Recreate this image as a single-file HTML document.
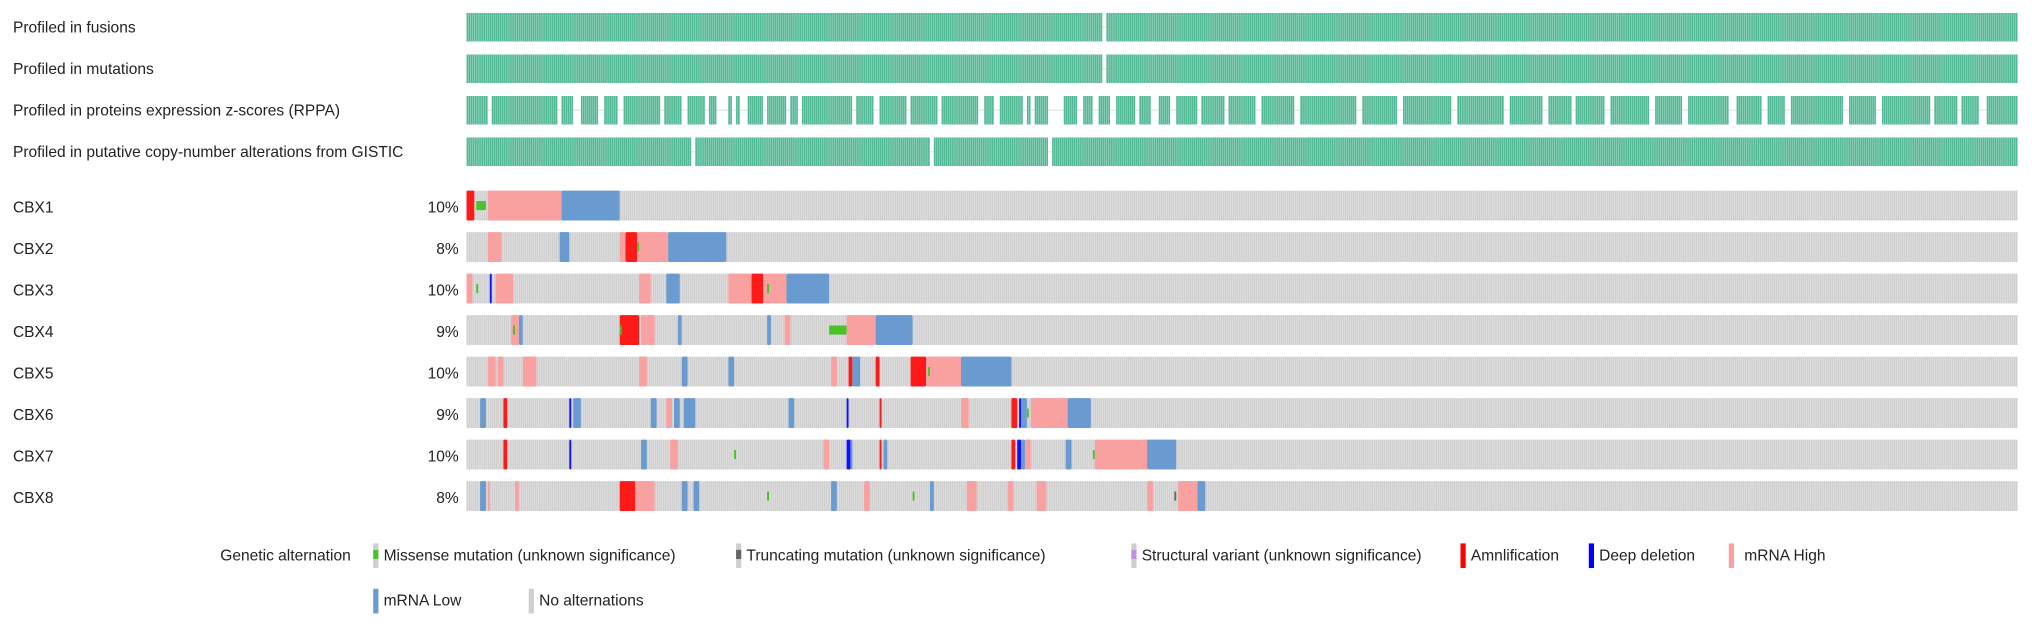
<!DOCTYPE html>
<html><head><meta charset="utf-8">
<style>
html,body{margin:0;padding:0;background:#fff;width:2032px;height:629px;overflow:hidden}
svg{display:block}
text{font-family:"Liberation Sans",sans-serif;fill:#222}
</style></head>
<body>
<svg id="chart" width="2032" height="629" viewBox="0 0 1568 485" preserveAspectRatio="none" xmlns="http://www.w3.org/2000/svg">
<g id="tracks"></g>
<g id="legend">
  <text x="170" y="432" font-size="12">Genetic alternation</text>
  <g><rect x="288" y="419" width="4" height="19" fill="#cfcfcf"/><rect x="288" y="424" width="4" height="7" fill="#4cc22a"/><text x="296" y="432" font-size="12">Missense mutation (unknown significance)</text></g>
  <g><rect x="568" y="419" width="4" height="19" fill="#cfcfcf"/><rect x="568" y="424" width="4" height="7" fill="#666"/><text x="576" y="432" font-size="12">Truncating mutation (unknown significance)</text></g>
  <g><rect x="873" y="419" width="4" height="19" fill="#cfcfcf"/><rect x="873" y="424" width="4" height="7" fill="#c58fe0"/><text x="881" y="432" font-size="12">Structural variant (unknown significance)</text></g>
  <g><rect x="1127" y="419" width="4" height="19" fill="#ff0000"/><text x="1135" y="432" font-size="12">Amnlification</text></g>
  <g><rect x="1226" y="419" width="4" height="19" fill="#0000ff"/><text x="1234" y="432" font-size="12">Deep deletion</text></g>
  <g><rect x="1334" y="419" width="4" height="19" fill="#f9a0a0"/><text x="1346" y="432" font-size="12">mRNA High</text></g>
  <g><rect x="288" y="454" width="4" height="19" fill="#6a9bd0"/><text x="296" y="467" font-size="12">mRNA Low</text></g>
  <g><rect x="408" y="454" width="4" height="19" fill="#cfcfcf"/><text x="416" y="467" font-size="12">No alternations</text></g>
</g>
</svg>
<script>
const N = 800;
const profileLabels = ["Profiled in fusions","Profiled in mutations","Profiled in proteins expression z-scores (RPPA)","Profiled in putative copy-number alterations from GISTIC"];
const profileGaps = [
  [[328,330]],
  [[328,330]],
  [[11,13],[47,49],[55,59],[68,71],[78,81],[100,102],[111,114],[123,125],[129,135],[137,139],[141,145],[153,155],[165,167],[171,173],[199,201],[210,213],[227,229],[243,245],[264,267],[272,275],[287,289],[291,293],[300,308],[315,318],[323,326],[332,335],[345,347],[353,357],[363,366],[377,379],[391,393],[407,410],[427,430],[459,462],[480,483],[508,511],[535,538],[555,558],[570,572],[587,590],[610,613],[627,630],[651,655],[668,671],[680,683],[710,713],[727,730],[755,757],[769,771],[780,784]],
  [[116,118],[239,241],[300,302]]
];
const genes = ["CBX1","CBX2","CBX3","CBX4","CBX5","CBX6","CBX7","CBX8"];
const pct = ["10%","8%","10%","9%","10%","9%","10%","8%"];
// alterations: [startSample, endSample, type]
const alts = [
  [[0,4,"amp"],[11,49,"high"],[49,79,"low"],[5,10,"mis"]],
  [[11,18,"high"],[48,53,"low"],[79,82,"high"],[82,88,"amp"],[88,104,"high"],[104,134,"low"],[88,89,"mis"]],
  [[0,3,"high"],[12,13,"del"],[15,24,"high"],[89,95,"high"],[103,110,"low"],[135,147,"high"],[147,153,"amp"],[153,165,"high"],[165,187,"low"],[5,6,"mis"],[155,156,"mis"]],
  [[23,27,"high"],[27,29,"low"],[79,89,"amp"],[90,93,"high"],[93,97,"high"],[109,111,"low"],[155,157,"low"],[164,167,"high"],[196,211,"high"],[211,230,"low"],[24,25,"mis"],[79,80,"mis"],[187,196,"mis"]],
  [[11,15,"high"],[16,19,"high"],[29,36,"high"],[89,93,"high"],[111,114,"low"],[135,138,"low"],[188,191,"high"],[197,199,"amp"],[199,203,"low"],[211,213,"amp"],[229,237,"amp"],[237,255,"high"],[255,281,"low"],[238,239,"mis"]],
  [[7,10,"low"],[19,21,"amp"],[53,54,"del"],[55,59,"low"],[95,98,"low"],[103,106,"high"],[107,110,"low"],[112,118,"low"],[166,169,"low"],[196,197,"del"],[213,214,"amp"],[255,259,"high"],[281,284,"amp"],[285,286,"del"],[286,289,"low"],[291,310,"high"],[310,322,"low"],[289,290,"mis"]],
  [[19,21,"amp"],[53,54,"del"],[90,93,"low"],[105,109,"high"],[184,187,"high"],[196,198,"del"],[198,199,"low"],[213,214,"amp"],[215,217,"low"],[281,283,"amp"],[284,286,"del"],[286,288,"low"],[288,291,"high"],[309,312,"low"],[324,351,"high"],[351,366,"low"],[138,139,"mis"],[323,324,"mis"]],
  [[7,10,"low"],[11,12,"high"],[25,27,"high"],[79,87,"amp"],[87,97,"high"],[111,114,"low"],[117,120,"low"],[188,191,"low"],[205,208,"high"],[239,241,"low"],[258,263,"high"],[279,282,"high"],[294,299,"high"],[351,354,"high"],[367,377,"high"],[377,381,"low"],[155,156,"mis"],[230,231,"mis"],[365,366,"trunc"]]
];
const colors = {amp:"#ff1a1a",del:"#1010ff",high:"#f9a0a0",low:"#6a9bd0",mis:"#4cc22a",trunc:"#666666"};
const X0 = 360, X1 = 1557, CW = (X1 - X0) / N;
const sx = s => X0 + s * CW;
const NS = "http://www.w3.org/2000/svg";
const g = document.getElementById("tracks");
function mk(tag, attrs, parent){const e=document.createElementNS(NS,tag);for(const k in attrs)e.setAttribute(k,attrs[k]);(parent||g).appendChild(e);return e;}
const inGaps = (s, gaps) => gaps.some(r => s >= r[0] && s < r[1]);
const profY = [10,42,74,106];
profileLabels.forEach((lab, i) => {
  const t = mk("text",{x:10,y:profY[i]+15,"font-size":12});
  t.textContent = lab;
  
  
  const row = mk("g",{});
  
  
  for (let s = 0; s < N; s++) {
    if (inGaps(s, profileGaps[i])) {
      mk("rect",{x:sx(s),y:profY[i]+10.5,width:CW,height:1,fill:"#e4e4e4"},row);
      continue;
    }
    mk("rect",{x:sx(s),y:profY[i],width:CW-0.2,height:22,fill:"#52b994"},row);
  }
});
const geneY = [147,179,211,243,275,307,339,371];
genes.forEach((gn, i) => {
  const y = geneY[i];
  const t = mk("text",{x:10,y:y+17,"font-size":12});
  t.textContent = gn;
  
  
  const p = mk("text",{x:354,y:y+17,"font-size":12,"text-anchor":"end"});
  p.textContent = pct[i];
  
  
  const row = mk("g",{});
  
  
  for (let s = 0; s < N; s++) mk("rect",{x:sx(s),y:y,width:CW-0.2,height:23,fill:"#cfcfcf"},row);
  alts[i].filter(a => a[2] !== "mis" && a[2] !== "trunc").forEach(a => {
    const r = mk("rect",{x:sx(a[0]),y:y,width:(a[1]-a[0])*CW,height:23,fill:colors[a[2]],rx:1},row);
    
    
  });
  alts[i].filter(a => a[2] === "mis" || a[2] === "trunc").forEach(a => {
    const r = mk("rect",{x:sx(a[0]),y:y+8,width:(a[1]-a[0])*CW,height:7,fill:colors[a[2]]},row);
    
    
  });
});
</script>
</body></html>
